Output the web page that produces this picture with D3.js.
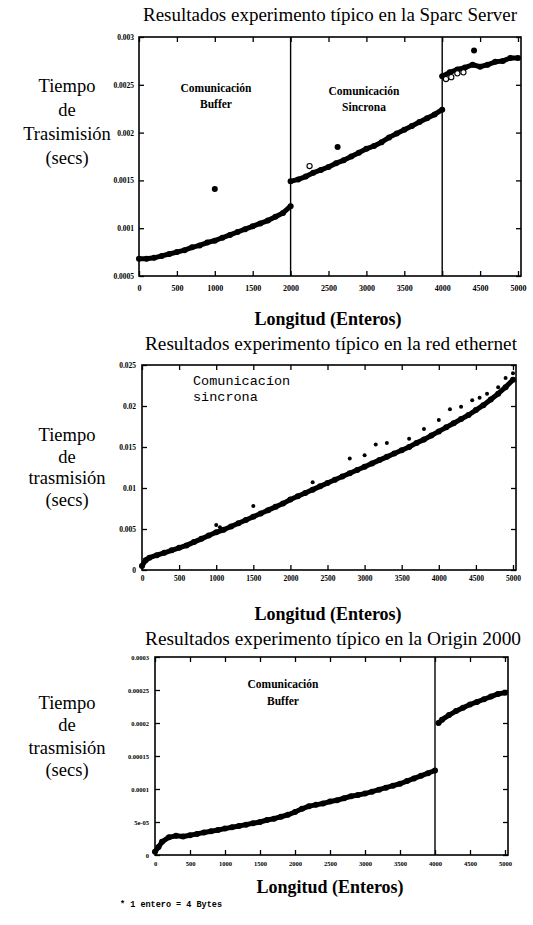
<!DOCTYPE html>
<html>
<head>
<meta charset="utf-8">
<script src="https://cdn.jsdelivr.net/npm/d3@7"></script>
<style>
  html, body { margin: 0; padding: 0; background: #fff; }
  svg { display: block; }
  text { fill: #000; }
</style>
</head>
<body>
<svg id="fig" width="533" height="925"></svg>
<script>
// ---------- Sparc Server (tiempo de transmisión en segundos) ----------
const sparcBufferLen  = [0,100,200,300,400,500,600,700,800,900,1000,1100,1200,1300,1400,1500,1600,1700,1800,1900,2000];
const sparcBufferTime = [0.00068,0.00068,0.00069,0.00071,0.00073,0.00075,0.00077,0.00080,0.00082,0.00085,0.00087,0.00090,0.00093,0.00096,0.00099,0.00102,0.00105,0.00108,0.00112,0.00116,0.00123];
const sparcSyncLen    = [2000,2100,2200,2300,2400,2500,2600,2700,2800,2900,3000,3100,3200,3300,3400,3500,3600,3700,3800,3900,4000];
const sparcSyncTime   = [0.00149,0.00151,0.00154,0.00158,0.00161,0.00164,0.00168,0.00171,0.00175,0.00179,0.00183,0.00186,0.00190,0.00195,0.00199,0.00203,0.00207,0.00211,0.00215,0.00219,0.00224];
const sparcHighLen    = [4000,4100,4200,4300,4400,4500,4600,4700,4800,4900,5000];
const sparcHighTime   = [0.00259,0.00263,0.00266,0.00268,0.00271,0.00269,0.00271,0.00274,0.00275,0.00278,0.00278];
const sparcOutlierLen  = [1000,2620,4420];
const sparcOutlierTime = [0.00141,0.00185,0.00286];
const sparcOpenLen     = [2250,4050,4120,4200,4280];
const sparcOpenTime    = [0.00165,0.00256,0.00258,0.00262,0.00263];
const sparcYTicks      = [0.0005,0.001,0.0015,0.002,0.0025,0.003];
const sparcYLabels     = ["0.0005","0.001","0.0015","0.002","0.0025","0.003"];

// ---------- Red ethernet ----------
const etherLen  = [0,50,100,200,300,400,500,600,700,800,900,1000,1100,1200,1300,1400,1500,1600,1700,1800,1900,2000,2100,2200,2300,2400,2500,2600,2700,2800,2900,3000,3100,3200,3300,3400,3500,3600,3700,3800,3900,4000,4100,4200,4300,4400,4500,4600,4700,4800,4900,5000];
const etherTime = [0.0005,0.0012,0.0015,0.0018,0.0021,0.0024,0.0027,0.0030,0.0034,0.0038,0.0042,0.0046,0.0049,0.0053,0.0057,0.0061,0.0065,0.0069,0.0073,0.0077,0.0081,0.0086,0.0090,0.0094,0.0098,0.0102,0.0106,0.0110,0.0114,0.0118,0.0122,0.0126,0.0130,0.0134,0.0138,0.0142,0.0146,0.0150,0.0155,0.0159,0.0164,0.0169,0.0174,0.0179,0.0184,0.0189,0.0195,0.0201,0.0208,0.0215,0.0223,0.0232];
const etherOutlierLen  = [1000,1050,1500,2300,2800,3000,3150,3300,3600,3800,4000,4150,4300,4450,4550,4650,4800,4900,5000];
const etherOutlierTime = [0.0055,0.0052,0.0078,0.0107,0.0136,0.0140,0.0153,0.0155,0.0160,0.0172,0.0183,0.0196,0.0199,0.0207,0.0210,0.0215,0.0223,0.0234,0.0240];
const etherYTicks  = [0,0.005,0.01,0.015,0.02,0.025];
const etherYLabels = ["0","0.005","0.01","0.015","0.02","0.025"];

// ---------- Origin 2000 ----------
const originBufferLen  = [0,50,100,200,300,400,500,600,700,800,900,1000,1100,1200,1300,1400,1500,1600,1700,1800,1900,2000,2100,2200,2300,2400,2500,2600,2700,2800,2900,3000,3100,3200,3300,3400,3500,3600,3700,3800,3900,4000];
const originBufferTime = [0.000005,0.000012,0.000020,0.000027,0.000029,0.000028,0.000030,0.000032,0.000034,0.000036,0.000038,0.000040,0.000042,0.000044,0.000046,0.000048,0.000050,0.000053,0.000055,0.000058,0.000061,0.000065,0.000070,0.000074,0.000076,0.000078,0.000081,0.000083,0.000086,0.000089,0.000091,0.000093,0.000096,0.000099,0.000102,0.000105,0.000108,0.000112,0.000116,0.000120,0.000124,0.000128];
const originHighLen    = [4050,4100,4200,4300,4400,4500,4600,4700,4800,4900,5000];
const originHighTime   = [0.000200,0.000205,0.000212,0.000218,0.000223,0.000228,0.000232,0.000236,0.000240,0.000244,0.000246];
const originYTicks  = [0,0.00005,0.0001,0.00015,0.0002,0.00025,0.0003];
const originYLabels = ["0","5e-05","0.0001","0.00015","0.0002","0.00025","0.0003"];

// shared x axis
const lengthTicks  = [0,500,1000,1500,2000,2500,3000,3500,4000,4500,5000];
const lengthLabels = ["0","500","1000","1500","2000","2500","3000","3500","4000","4500","5000"];

const svg = d3.select("#fig");
const SERIF = "'Liberation Serif','Times New Roman',serif";
const MONO  = "'Liberation Mono','DejaVu Sans Mono',monospace";

function zip(xs, ys) { return xs.map((x, i) => [x, ys[i]]); }

function panel(cfg) {
  const g = svg.append("g");
  const x = d3.scaleLinear().domain([0, 5000]).range([cfg.left, cfg.right - 3]);
  const y = d3.scaleLinear().domain(cfg.yDomain).range([cfg.bottom, cfg.top]);

  // title
  g.append("text").attr("x", cfg.titleX).attr("y", cfg.titleY)
    .attr("text-anchor", "middle").attr("font-family", SERIF)
    .attr("font-size", 18).attr("textLength", cfg.titleW)
    .attr("lengthAdjust", "spacingAndGlyphs").text(cfg.title);

  // y axis label (stacked)
  cfg.yLabel.forEach((s, i) => {
    g.append("text").attr("x", 67).attr("y", cfg.yLabelY[i])
      .attr("text-anchor", "middle").attr("font-family", SERIF)
      .attr("font-size", 18.5).text(s);
  });

  // frame
  g.append("rect").attr("x", cfg.left).attr("y", cfg.top)
    .attr("width", cfg.right - cfg.left).attr("height", cfg.bottom - cfg.top)
    .attr("fill", "none").attr("stroke", "#000").attr("stroke-width", 1.6);

  // axes with inward ticks
  const fmtX = (d, i) => lengthLabels[i];
  const bottomAxis = d3.axisBottom(x).tickValues(lengthTicks).tickFormat(fmtX)
    .tickSizeInner(-5).tickSizeOuter(0).tickPadding(cfg.xPad);
  const topAxis = d3.axisTop(x).tickValues(lengthTicks).tickFormat("")
    .tickSizeInner(-5).tickSizeOuter(0);
  const leftAxis = d3.axisLeft(y).tickValues(cfg.yTicks).tickFormat((d, i) => cfg.yLabels[i])
    .tickSizeInner(-5).tickSizeOuter(0).tickPadding(cfg.yPad);
  const rightAxis = d3.axisRight(y).tickValues(cfg.yTicks).tickFormat("")
    .tickSizeInner(-5).tickSizeOuter(0);

  const styleAxis = (sel, fs) => {
    sel.select(".domain").remove();
    sel.selectAll("line").attr("stroke", "#000").attr("stroke-width", 1.3);
    sel.selectAll("text").attr("font-family", SERIF).attr("font-weight", "bold")
      .attr("font-size", fs).attr("fill", "#000");
  };
  g.append("g").attr("transform", `translate(0,${cfg.bottom})`).call(bottomAxis).call(s => styleAxis(s, cfg.xFont));
  g.append("g").attr("transform", `translate(0,${cfg.top})`).call(topAxis).call(s => styleAxis(s, 8));
  g.append("g").attr("transform", `translate(${cfg.left},0)`).call(leftAxis).call(s => styleAxis(s, cfg.yFont));
  g.append("g").attr("transform", `translate(${cfg.right},0)`).call(rightAxis).call(s => styleAxis(s, 8));

  // x axis title
  g.append("text").attr("x", cfg.xTitleX).attr("y", cfg.xTitleY)
    .attr("text-anchor", "middle").attr("font-family", SERIF)
    .attr("font-weight", "bold").attr("font-size", 18).text("Longitud (Enteros)");

  // region dividers
  (cfg.dividers || []).forEach(v => {
    g.append("line").attr("x1", x(v)).attr("x2", x(v))
      .attr("y1", cfg.top).attr("y2", cfg.bottom)
      .attr("stroke", "#000").attr("stroke-width", 1.4);
  });

  // region notes
  (cfg.notes || []).forEach(n => {
    n.lines.forEach((s, i) => {
      g.append("text").attr("x", n.x).attr("y", n.y + i * n.dy)
        .attr("text-anchor", n.anchor || "middle")
        .attr("font-family", n.mono ? MONO : SERIF)
        .attr("font-weight", n.mono ? "normal" : "bold")
        .attr("font-size", n.size).text(s);
    });
  });

  // measured series: dense dots drawn as a heavy trace with dot markers
  const line = d3.line().x(d => x(d[0])).y(d => y(d[1]));
  cfg.series.forEach(s => {
    const pts = zip(s.len, s.time);
    g.append("path").attr("d", line(pts)).attr("fill", "none")
      .attr("stroke", "#000").attr("stroke-width", 5)
      .attr("stroke-linejoin", "round").attr("stroke-linecap", "round");
    g.selectAll(null).data(pts).enter().append("circle")
      .attr("cx", d => x(d[0])).attr("cy", d => y(d[1])).attr("r", 3).attr("fill", "#000");
  });
  (cfg.dots || []).forEach(s => {
    g.selectAll(null).data(zip(s.len, s.time)).enter().append("circle")
      .attr("cx", d => x(d[0])).attr("cy", d => y(d[1])).attr("r", s.r || 2.8)
      .attr("fill", s.open ? "#fff" : "#000").attr("stroke", "#000").attr("stroke-width", s.open ? 1.1 : 0);
  });
  return g;
}

panel({
  title: "Resultados experimento típico en la Sparc Server", titleX: 330, titleY: 21, titleW: 374,
  yLabel: ["Tiempo", "de", "Trasimisión", "(secs)"], yLabelY: [92, 116, 140, 164],
  left: 139, right: 521, top: 37, bottom: 276,
  yDomain: [0.0005, 0.003], yTicks: sparcYTicks, yLabels: sparcYLabels,
  xPad: 9, xFont: 8, yPad: 5, yFont: 7.5,
  xTitleX: 328, xTitleY: 325,
  dividers: [2000, 4000],
  notes: [
    { x: 216, y: 92, dy: 16, size: 11.5, lines: ["Comunicación", "Buffer"] },
    { x: 364, y: 95, dy: 16, size: 11.5, lines: ["Comunicación", "Sincrona"] }
  ],
  series: [
    { len: sparcBufferLen, time: sparcBufferTime },
    { len: sparcSyncLen, time: sparcSyncTime },
    { len: sparcHighLen, time: sparcHighTime }
  ],
  dots: [
    { len: sparcOutlierLen, time: sparcOutlierTime, r: 3 },
    { len: sparcOpenLen, time: sparcOpenTime, open: true, r: 2.6 }
  ]
});

panel({
  title: "Resultados experimento típico en la red ethernet", titleX: 331, titleY: 350, titleW: 372,
  yLabel: ["Tiempo", "de", "trasmisión", "(secs)"], yLabelY: [441, 463, 484, 506],
  left: 142, right: 516, top: 365, bottom: 570,
  yDomain: [0, 0.025], yTicks: etherYTicks, yLabels: etherYLabels,
  xPad: 6, xFont: 7.5, yPad: 6, yFont: 7.5,
  xTitleX: 328, xTitleY: 620,
  notes: [
    { x: 193, y: 385, dy: 16, size: 13.5, mono: true, anchor: "start", lines: ["Comunicacíon", "sincrona"] }
  ],
  series: [ { len: etherLen, time: etherTime } ],
  dots: [ { len: etherOutlierLen, time: etherOutlierTime, r: 2 } ]
});

panel({
  title: "Resultados experimento típico en la Origin 2000", titleX: 333, titleY: 645, titleW: 376,
  yLabel: ["Tiempo", "de", "trasmisión", "(secs)"], yLabelY: [709, 731, 754, 776],
  left: 155, right: 508, top: 657, bottom: 855,
  yDomain: [0, 0.0003], yTicks: originYTicks, yLabels: originYLabels,
  xPad: 6, xFont: 6.5, yPad: 6, yFont: 6.5,
  xTitleX: 330, xTitleY: 893,
  dividers: [4000],
  notes: [
    { x: 283, y: 688, dy: 17, size: 11.5, lines: ["Comunicación", "Buffer"] }
  ],
  series: [
    { len: originBufferLen, time: originBufferTime },
    { len: originHighLen, time: originHighTime }
  ]
});

// footnote
svg.append("text").attr("x", 120).attr("y", 907)
  .attr("font-family", MONO).attr("font-weight", "bold").attr("font-size", 8.5)
  .text("* 1 entero = 4 Bytes");
</script>
</body>
</html>
